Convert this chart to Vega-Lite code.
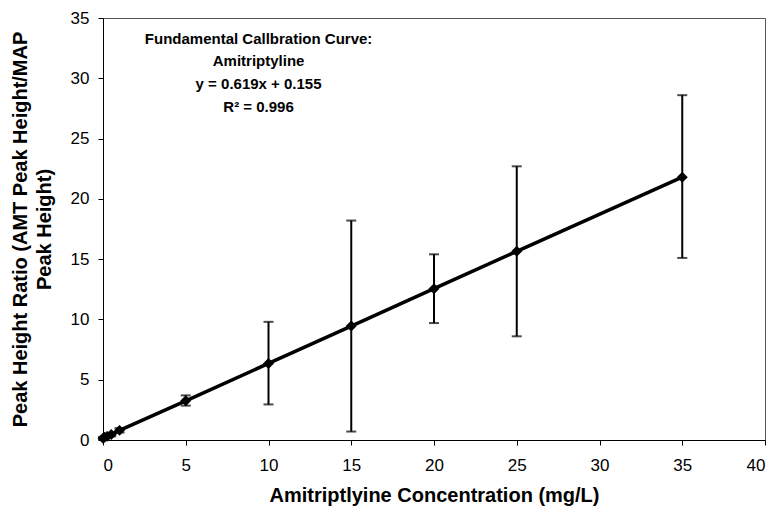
{
  "$schema": "https://vega.github.io/schema/vega-lite/v6.json",
  "width": 662,
  "height": 422,
  "autosize": {"type": "none"},
  "padding": {"left": 103, "top": 18, "right": 11, "bottom": 72},
  "background": "white",
  "config": {
    "font": "Liberation Sans",
    "view": {"stroke": "#555555", "strokeWidth": 1},
    "axis": {
      "grid": false,
      "domainColor": "#000000",
      "tickColor": "#000000",
      "labelColor": "#000000",
      "titleColor": "#000000",
      "labelFont": "Liberation Sans",
      "titleFont": "Liberation Sans",
      "labelFontSize": 17,
      "titleFontSize": 20,
      "titleFontWeight": "bold",
      "tickSize": 5
    }
  },
  "datasets": {
    "points": [
      {"conc": 0, "ratio": 0.15, "lo": 0.05, "hi": 0.25},
      {"conc": 0.1, "ratio": 0.22, "lo": 0.14, "hi": 0.3},
      {"conc": 0.25, "ratio": 0.3, "lo": 0.2, "hi": 0.42},
      {"conc": 0.5, "ratio": 0.45, "lo": 0.3, "hi": 0.6},
      {"conc": 1, "ratio": 0.8, "lo": 0.62, "hi": 0.98},
      {"conc": 5, "ratio": 3.25, "lo": 2.85, "hi": 3.7},
      {"conc": 10, "ratio": 6.35, "lo": 2.95, "hi": 9.8},
      {"conc": 15, "ratio": 9.45, "lo": 0.7, "hi": 18.2},
      {"conc": 20, "ratio": 12.55, "lo": 9.7, "hi": 15.4},
      {"conc": 25, "ratio": 15.65, "lo": 8.6, "hi": 22.7},
      {"conc": 35, "ratio": 21.8, "lo": 15.1, "hi": 28.6}
    ],
    "notes": [
      {"x": 9.4, "y": 33.25, "label": "Fundamental Callbration Curve:"},
      {"x": 9.4, "y": 31.4, "label": "Amitriptyline"},
      {"x": 9.4, "y": 29.5, "label": "y = 0.619x + 0.155"},
      {"x": 9.4, "y": 27.6, "label": "R² = 0.996"}
    ]
  },
  "layer": [
    {
      "data": {"name": "points"},
      "mark": {"type": "errorbar", "color": "#000000", "ticks": {"size": 10, "color": "#000000", "thickness": 2}, "thickness": 2},
      "encoding": {
        "x": {"field": "conc", "type": "quantitative", "scale": {"domain": [0, 40], "nice": false},
          "axis": {"title": "Amitriptlyine Concentration (mg/L)", "values": [0, 5, 10, 15, 20, 25, 30, 35, 40], "labelPadding": 12, "titlePadding": 12}},
        "y": {"field": "lo", "type": "quantitative", "scale": {"domain": [0, 35], "nice": false},
          "axis": {"title": ["Peak Height Ratio (AMT Peak Height/MAP", "Peak Height)"], "values": [0, 5, 10, 15, 20, 25, 30, 35], "labelPadding": 9, "titlePadding": 16, "titleLineHeight": 24}},
        "y2": {"field": "hi"}
      }
    },
    {
      "data": {"name": "points"},
      "mark": {"type": "line", "color": "#000000", "strokeWidth": 3.5, "point": {"shape": "diamond", "filled": true, "size": 120, "color": "#000000"}},
      "encoding": {
        "x": {"field": "conc", "type": "quantitative"},
        "y": {"field": "ratio", "type": "quantitative"}
      }
    },
    {
      "data": {"name": "notes"},
      "mark": {"type": "text", "fontWeight": "bold", "fontSize": 15, "align": "center", "baseline": "middle", "color": "#000000", "font": "Liberation Sans"},
      "encoding": {
        "x": {"field": "x", "type": "quantitative"},
        "y": {"field": "y", "type": "quantitative"},
        "text": {"field": "label"}
      }
    }
  ]
}
